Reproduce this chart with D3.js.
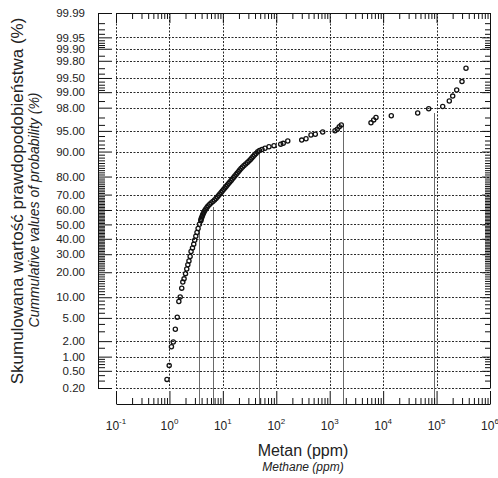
<!DOCTYPE html>
<html><head><meta charset="utf-8">
<script src="https://cdn.jsdelivr.net/npm/d3@7"></script>
<style>body{margin:0;background:#fff}svg{display:block}text{font-family:"Liberation Sans",Arial,sans-serif;fill:#222}</style>
</head><body>
<script>
// ---- data ----
const methanePpm = [0.90,0.99,1.09,1.18,1.29,1.40,1.50,1.59,1.70,1.78,1.88,2.00,2.11,2.21,2.32,2.44,2.54,2.70,2.85,2.97,3.12,3.28,3.44,3.65,3.87,
 3.90,3.98,4.09,4.18,4.30,4.44,4.59,4.79,5.03,5.27,5.62,6.00,6.51,6.98,7.44,7.87,8.32,8.76,9.27,9.76,10.3,10.9,11.5,12.1,12.8,13.5,14.3,15.0,15.9,16.7,17.7,18.6,19.7,20.7,21.9,23.3,24.9,26.8,28.8,30.8,32.9,34.8,36.8,39.1,41.7,44.9,48.5,
 54.0,61.5,73.0,90.6,121,135,164,299,360,446,537,739,1256,1386,1511,1647,5923,6655,7349,14210,44320,71230,130200,173000,200300,237900,299100,355300];
const cumulativePct = [0.32,0.65,1.57,1.93,3.25,5.11,8.75,10.1,13.1,15.5,16.9,19.3,21.6,23.9,26.0,28.6,31.7,33.9,36.4,39.0,41.7,44.3,47.1,50.1,52.6,
 53.4,54.5,55.5,56.6,57.6,58.6,59.7,60.7,61.7,62.7,63.7,64.7,65.6,66.6,67.6,68.5,69.4,70.4,71.3,72.2,73.0,73.9,74.8,75.6,76.4,77.2,78.0,78.8,79.5,80.3,81.0,81.7,82.4,83.1,83.7,84.4,85.0,85.6,86.2,86.8,87.3,87.9,88.4,88.9,89.4,89.9,90.3,
 90.6,90.97,91.4,91.7,92.1,92.3,92.9,93.1,93.4,94.2,94.35,94.8,95.04,95.3,95.7,96.0,96.3,96.7,97.0,97.2,97.5,97.9,98.1,98.5,98.8,99.1,99.4,99.7];
const markerPpm = [3.6, 6.5, 47.5, 1800, 88000];
const markerPct = [46, 62, 90, 96, 97.5];
const yTickPct = [0.2,0.5,1,2,5,10,20,30,40,50,60,70,80,90,95,98,99,99.5,99.8,99.9,99.95,99.99];
const yMinorPct = [0.3,0.4,0.6,0.7,0.8,0.9,1.5,3,4,6,7,8,9,
 11,12,13,14,15,16,17,18,19,21,22,23,24,25,26,27,28,29,31,32,33,34,35,36,37,38,39,
 41,42,43,44,45,46,47,48,49,51,52,53,54,55,56,57,58,59,61,62,63,64,65,66,67,68,69,
 71,72,73,74,75,76,77,78,79,81,82,83,84,85,86,87,88,89,91,92,93,94,96,97,98.5,
 99.1,99.2,99.3,99.4,99.6,99.7,99.85,99.91,99.92,99.93,99.94,99.96,99.97,99.98];
const xDecades = [0.1,1,10,100,1e3,1e4,1e5,1e6];
const xExponents = ["-1","0","1","2","3","4","5","6"];
const xMinorMult = [2,3,4,5,6,7,8,9];

// inverse normal CDF (Acklam)
function probit(p){
 const a=[-3.969683028665376e+01,2.209460984245205e+02,-2.759285104469687e+02,1.383577518672690e+02,-3.066479806614716e+01,2.506628277459239e+00];
 const b=[-5.447609879822406e+01,1.615858368580409e+02,-1.556989798598866e+02,6.680131188771972e+01,-1.328068155288572e+01];
 const c=[-7.784894002430293e-03,-3.223964580411365e-01,-2.400758277161838e+00,-2.549732539343734e+00,4.374664141464968e+00,2.938163982698783e+00];
 const d=[7.784695709041462e-03,3.224671290700398e-01,2.445134137142996e+00,3.754408661907416e+00];
 const pl=0.02425, ph=1-pl; let q,r;
 if(p<pl){q=Math.sqrt(-2*Math.log(p));return (((((c[0]*q+c[1])*q+c[2])*q+c[3])*q+c[4])*q+c[5])/((((d[0]*q+d[1])*q+d[2])*q+d[3])*q+1);}
 if(p<=ph){q=p-0.5;r=q*q;return (((((a[0]*r+a[1])*r+a[2])*r+a[3])*r+a[4])*r+a[5])*q/(((((b[0]*r+b[1])*r+b[2])*r+b[3])*r+b[4])*r+1);}
 q=Math.sqrt(-2*Math.log(1-p));return -(((((c[0]*q+c[1])*q+c[2])*q+c[3])*q+c[4])*q+c[5])/((((d[0]*q+d[1])*q+d[2])*q+d[3])*q+1);
}

const W=498,H=478;
const L=116,R=490,T=13,B=388,AXL=98,AXB=404;
const x = d3.scaleLog().domain([0.1,1e6]).range([L,R]);
const z = d3.scaleLinear().domain([probit(0.002),probit(0.9999)]).range([B,T]);
const y = pct => z(probit(pct/100));
const zOf = pct => probit(pct/100);
const xMinor = [];
xDecades.slice(0,-1).forEach(d0=>xMinorMult.forEach(m=>xMinor.push(d0*m)));

const svg = d3.select("body").append("svg").attr("width",W).attr("height",H);
svg.append("rect").attr("width",W).attr("height",H).attr("fill","#fff");

// grid
const grid = svg.append("g").attr("stroke","#2a2a2a").attr("stroke-width",1).attr("stroke-dasharray","2,1.5").attr("fill","none");
grid.selectAll("line.h").data(yTickPct.filter(p=>p<99.99)).join("line").attr("class","h")
 .attr("x1",L).attr("x2",R).attr("y1",d=>Math.round(y(d))+0.5).attr("y2",d=>Math.round(y(d))+0.5);
grid.selectAll("line.v").data(xDecades.slice(0,-1)).join("line").attr("class","v")
 .attr("x1",d=>Math.round(x(d))+0.5).attr("x2",d=>Math.round(x(d))+0.5).attr("y1",T).attr("y2",B);

// marker lines
svg.append("g").selectAll("line").data(markerPpm).join("line")
 .attr("x1",d=>Math.round(x(d))+0.5).attr("x2",d=>Math.round(x(d))+0.5)
 .attr("y1",(d,i)=>y(markerPct[i])).attr("y2",AXB)
 .attr("stroke","#6a6a6a").attr("stroke-width",1);

function styleAxis(g){g.selectAll("path,line").attr("stroke","#111");g.selectAll("text").attr("font-size",11.5).attr("fill","#222").attr("font-family","Liberation Sans, Arial, sans-serif");}

// left axis
svg.append("g").attr("transform",`translate(${AXL},0)`)
 .call(d3.axisLeft(z).tickValues(yTickPct.map(zOf)).tickSizeInner(-14).tickSizeOuter(0).tickPadding(13).tickFormat((d,i)=>yTickPct[i].toFixed(2)))
 .call(styleAxis);
svg.append("g").attr("transform",`translate(${AXL},0)`)
 .call(d3.axisLeft(z).tickValues(yMinorPct.map(zOf)).tickSizeInner(-7).tickSizeOuter(0).tickFormat(""))
 .call(g=>g.select(".domain").remove()).call(styleAxis);
// right axis
svg.append("g").attr("transform",`translate(${R},0)`)
 .call(d3.axisRight(z).tickValues(yTickPct.map(zOf)).tickSizeInner(-8).tickSizeOuter(0).tickFormat(""))
 .call(styleAxis);
svg.append("g").attr("transform",`translate(${R},0)`)
 .call(d3.axisRight(z).tickValues(yMinorPct.map(zOf)).tickSizeInner(-5).tickSizeOuter(0).tickFormat(""))
 .call(g=>g.select(".domain").remove()).call(styleAxis);
// top axis
svg.append("g").attr("transform",`translate(0,${T})`)
 .call(d3.axisTop(x).tickValues(xDecades).tickSizeInner(-10).tickSizeOuter(0).tickFormat(""))
 .call(styleAxis);
svg.append("g").attr("transform",`translate(0,${T})`)
 .call(d3.axisTop(x).tickValues(xMinor).tickSizeInner(-6).tickSizeOuter(0).tickFormat(""))
 .call(g=>g.select(".domain").remove()).call(styleAxis);
// bottom axis
svg.append("g").attr("transform",`translate(0,${AXB})`)
 .call(d3.axisBottom(x).tickValues(xDecades).tickSizeInner(-13).tickSizeOuter(0).tickFormat(""))
 .call(styleAxis);
svg.append("g").attr("transform",`translate(0,${AXB})`)
 .call(d3.axisBottom(x).tickValues(xMinor).tickSizeInner(-6).tickSizeOuter(0).tickFormat(""))
 .call(g=>g.select(".domain").remove()).call(styleAxis);

// x tick labels with superscripts
const xl = svg.append("g").selectAll("text").data(xDecades).join("text")
 .attr("x",d=>x(d)).attr("y",430).attr("text-anchor","middle").attr("font-size",12);
xl.append("tspan").text("10");
xl.append("tspan").attr("dy",-6).attr("font-size",8).text((d,i)=>xExponents[i]);

// points
svg.append("g").selectAll("circle").data(methanePpm).join("circle")
 .attr("cx",d=>x(d)).attr("cy",(d,i)=>y(cumulativePct[i])).attr("r",2.1)
 .attr("fill","none").attr("stroke","#111").attr("stroke-width",1.3);

// titles
svg.append("text").attr("x",(L+R)/2).attr("y",456).attr("text-anchor","middle").attr("font-size",16).text("Metan (ppm)");
svg.append("text").attr("x",(L+R)/2).attr("y",471).attr("text-anchor","middle").attr("font-size",12).attr("font-style","italic").text("Methane (ppm)");
svg.append("text").attr("transform","translate(23,201) rotate(-90)").attr("text-anchor","middle").attr("font-size",17).text("Skumulowana wartość prawdopodobieństwa (%)");
svg.append("text").attr("transform","translate(39,210) rotate(-90)").attr("text-anchor","middle").attr("font-size",14).attr("font-style","italic").text("Cummulative values of probability (%)");
</script>
</body></html>
